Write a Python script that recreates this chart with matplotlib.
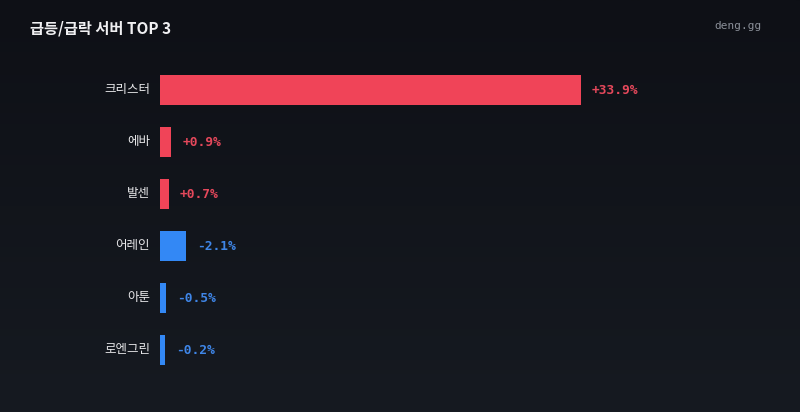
import numpy as np
import matplotlib
matplotlib.use("Agg")
import matplotlib.pyplot as plt

plt.rcParams['font.family'] = ['Noto Sans CJK KR', 'DejaVu Sans']

#servers and change (%)
servers = ["크리스터", "에바", "발센", "어레인", "아툰", "로엔그린"]
changes = [33.9, 0.9, 0.7, -2.1, -0.5, -0.2]

RED = "#f04458"
BLUE = "#3388f5"

W, H = 800, 412
fig = plt.figure(figsize=(W/100, H/100), dpi=100)

#background gradient
bg = fig.add_axes([0, 0, 1, 1], zorder=0)
grad = np.linspace(0, 1, 256).reshape(-1, 1)
cmap = matplotlib.colors.LinearSegmentedColormap.from_list("bg", ["#0e1016", "#161a21"])
bg.imshow(grad, aspect="auto", cmap=cmap, extent=[0, 1, 0, 1])
bg.axis("off")

# axes: x from 160px to 800px, rows from y=64 to y=376
ax = fig.add_axes([160/W, 1-376/H, 640/W, 312/H], zorder=1)
ax.patch.set_alpha(0)
pxPerPct = 421/33.9
ax.set_xlim(0, 640/pxPerPct)
ax.set_ylim(len(servers)-0.5, -0.5)

ypos = np.arange(len(servers))
widths = [max(abs(v), 0.38) for v in changes]
colors = [RED if v >= 0 else BLUE for v in changes]
ax.barh(ypos, widths, height=30/52, color=colors, left=0)

for y, w, v, c in zip(ypos, widths, changes, colors):
    txtc = "#e5485b" if v >= 0 else "#3f86e8"
    ax.text(w + 11/pxPerPct, y, ("+" if v >= 0 else "") + f"{v:.1f}%",
            va="center", ha="left", color=txtc, fontsize=9.3,
            fontweight="bold", family="DejaVu Sans Mono")
    ax.text(-10/pxPerPct, y, servers[y], va="center", ha="right",
            color="#e8e8ea", fontsize=9, fontweight="medium", clip_on=False)

ax.axis("off")

fig.text(30/W, 1-28/H, "급등/급락 서버 TOP 3", color="#f0f0f2", fontsize=11,
         fontweight="bold", va="center", ha="left")
fig.text(762/W, 1-26/H, "deng.gg", color="#8a8f98", fontsize=8,
         family="DejaVu Sans Mono", va="center", ha="right")

fig.savefig("out.png", dpi=100)
